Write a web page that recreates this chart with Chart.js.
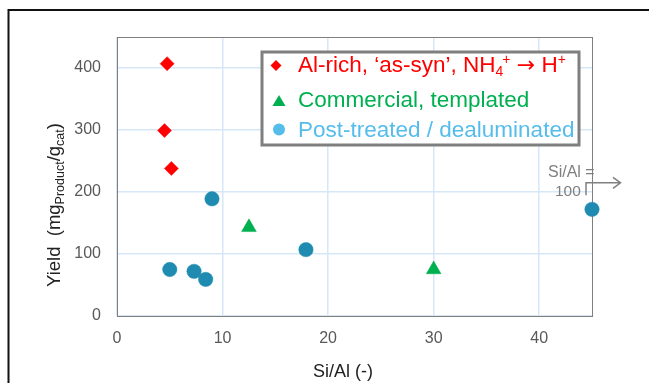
<!DOCTYPE html>
<html lang="en">
  <head>
    <meta charset="UTF-8" />
    <title>Yield vs Si/Al</title>
    <style>
      body {
        margin: 0;
        background: #fff;
      }
    </style>
    <script src="https://cdn.jsdelivr.net/npm/chart.js@4"></script>
  </head>
  <body>
    <canvas id="chart" width="649" height="383"></canvas>

    <script>
      // data
      const alRichX = [4.75, 4.5, 5.15];
      const alRichY = [407, 299, 238];
      const commercialX = [12.5, 30];
      const commercialY = [143, 75];
      const postTreatedX = [5.0, 7.3, 8.4, 9.0, 17.9, 45];
      const postTreatedY = [75, 72, 59, 189, 107, 172];

      const xTicks = [0, 10, 20, 30, 40];
      const yTicks = [0, 100, 200, 300, 400];

      const FONT = "'Liberation Sans', Arial, sans-serif";

      function toPoints(xs, ys) {
        return xs.map((x, i) => ({ x, y: ys[i] }));
      }

      // outer frame, plot border
      const framePlugin = {
        id: "frame",
        beforeDraw(chart) {
          const ctx = chart.ctx;
          ctx.save();
          ctx.fillStyle = "#fff";
          ctx.fillRect(0, 0, chart.width, chart.height);
          ctx.strokeStyle = "#111";
          ctx.lineWidth = 2;
          ctx.beginPath();
          ctx.moveTo(8.5, chart.height);
          ctx.lineTo(8.5, 10);
          ctx.lineTo(chart.width, 10);
          ctx.stroke();
          ctx.restore();
        },
        beforeDatasetsDraw(chart) {
          const { ctx, chartArea: a } = chart;
          ctx.save();
          ctx.strokeStyle = "#7f7f7f";
          ctx.lineWidth = 1;
          ctx.strokeRect(Math.round(a.left) + 0.5, Math.round(a.top) + 0.5,
            Math.round(a.right - a.left), Math.round(a.bottom - a.top));
          ctx.restore();
        },
      };

      // rich text helper: parts of [text, size, dy, family]
      function drawRich(ctx, parts, x, y) {
        for (const [t, size, dy, fam] of parts) {
          ctx.font = size + "px " + (fam || FONT);
          ctx.fillText(t, x, y + dy);
          x += ctx.measureText(t).width;
        }
        return x;
      }

      const titlesPlugin = {
        id: "titles",
        afterDraw(chart) {
          const { ctx, chartArea: a } = chart;
          ctx.save();
          ctx.fillStyle = "#222";
          ctx.textBaseline = "alphabetic";
          ctx.textAlign = "center";
          ctx.font = "18px " + FONT;
          ctx.fillText("Si/Al (-)", a.left + 226, 377);

          // y title, rotated
          ctx.translate(60, 287);
          ctx.rotate(-Math.PI / 2);
          ctx.textAlign = "left";
          drawRich(ctx, [
            ["Yield  (mg", 18.5, 0],
            ["Product", 12.5, 4],
            ["/g", 18.5, 0],
            ["cat", 12.5, 4],
            [")", 18.5, 0],
          ], 0, 0);
          ctx.restore();
        },
      };

      const legendPlugin = {
        id: "customLegend",
        afterDraw(chart) {
          const { ctx, chartArea: a } = chart;
          const left = a.left + 145;
          const top = a.top + 15;
          ctx.save();
          ctx.fillStyle = "#fff";
          ctx.fillRect(left, top, 317, 93);
          ctx.strokeStyle = "#7f7f7f";
          ctx.lineWidth = 3;
          ctx.strokeRect(left, top, 317, 93);

          const tx = left + 36;
          ctx.textBaseline = "alphabetic";

          // row 1
          ctx.fillStyle = "#ff0000";
          ctx.beginPath();
          const dx = left + 14, dy = top + 13.5;
          ctx.moveTo(dx - 5.5, dy);
          ctx.lineTo(dx, dy - 5.5);
          ctx.lineTo(dx + 5.5, dy);
          ctx.lineTo(dx, dy + 5.5);
          ctx.closePath();
          ctx.fill();
          let x = drawRich(ctx, [
            ["Al-rich, \u2018as-syn\u2019, NH", 22.5, 0],
            ["4", 14, 4],
          ], tx, top + 20);
          drawRich(ctx, [
            ["+", 14, -8],
            [" ", 22.5, 0],
            ["\u2192", 22, 0, "'DejaVu Sans', sans-serif"],
            [" H", 22.5, 0],
            ["+", 14, -8],
          ], x - 1, top + 20);

          // row 2
          ctx.fillStyle = "#00b050";
          ctx.beginPath();
          const gx = left + 17, gy = top + 49;
          ctx.moveTo(gx, gy - 6);
          ctx.lineTo(gx + 6.5, gy + 5);
          ctx.lineTo(gx - 6.5, gy + 5);
          ctx.closePath();
          ctx.fill();
          drawRich(ctx, [["Commercial, templated", 22.5, 0]], tx, top + 55);

          // row 3
          ctx.fillStyle = "#56bdeb";
          ctx.beginPath();
          ctx.arc(left + 17, top + 77.5, 6, 0, Math.PI * 2);
          ctx.fill();
          drawRich(ctx, [["Post-treated / dealuminated", 22.5, 0]], tx, top + 85);
          ctx.restore();
        },
      };

      // "Si/Al = 100" note next to the last post-treated point
      const notePlugin = {
        id: "note",
        afterDatasetsDraw(chart) {
          const { ctx, scales } = chart;
          const n = postTreatedX.length - 1;
          const px = scales.x.getPixelForValue(postTreatedX[n]);
          const py = scales.y.getPixelForValue(postTreatedY[n]);
          ctx.save();
          ctx.fillStyle = "#7f7f7f";
          ctx.font = "16px " + FONT;
          ctx.textBaseline = "alphabetic";
          ctx.fillText("Si/Al =", px - 44, py - 32);
          ctx.font = "15.5px " + FONT;
          ctx.fillText("100", px - 37, py - 13);

          ctx.strokeStyle = "#808080";
          ctx.lineWidth = 1.5;
          ctx.beginPath();
          ctx.moveTo(px - 6, py - 14);
          ctx.lineTo(px - 6, py - 26.5);
          ctx.lineTo(px + 28, py - 26.5);
          ctx.moveTo(px + 21, py - 32);
          ctx.lineTo(px + 28.5, py - 26.5);
          ctx.lineTo(px + 21, py - 21);
          ctx.stroke();
          ctx.restore();
        },
      };

      new Chart(document.getElementById("chart"), {
        type: "scatter",
        data: {
          datasets: [
            {
              label: "Al-rich",
              data: toPoints(alRichX, alRichY),
              pointStyle: "rectRot",
              pointRadius: 7,
              pointBackgroundColor: "#ff0000",
              pointBorderColor: "#ff0000",
              pointBorderWidth: 0.5,
              clip: false,
            },
            {
              label: "Commercial",
              data: toPoints(commercialX, commercialY),
              pointStyle: "triangle",
              pointRadius: 8.5,
              pointBackgroundColor: "#00b050",
              pointBorderColor: "#00b050",
              pointBorderWidth: 0.5,
              clip: false,
            },
            {
              label: "Post-treated",
              data: toPoints(postTreatedX, postTreatedY),
              pointStyle: "circle",
              pointRadius: 7.2,
              pointBackgroundColor: "#1f8bb1",
              pointBorderColor: "#1f8bb1",
              pointBorderWidth: 0.5,
              clip: false,
            },
          ],
        },
        options: {
          responsive: false,
          animation: false,
          devicePixelRatio: 1,
          layout: { padding: { left: 0, top: 37, right: 57, bottom: 0 } },
          plugins: {
            legend: { display: false },
            tooltip: { enabled: false },
          },
          scales: {
            x: {
              type: "linear",
              min: 0,
              max: 45,
              afterBuildTicks: (s) => {
                s.ticks = xTicks.map((v) => ({ value: v }));
              },
              afterFit: (s) => {
                s.height = 67;
              },
              ticks: {
                color: "#595959",
                font: { family: FONT, size: 16 },
                padding: 13,
                maxRotation: 0,
              },
              grid: { color: "#d6e8f8", lineWidth: 1.5, drawTicks: false },
              border: { display: false },
            },
            y: {
              min: 0,
              max: 450,
              afterBuildTicks: (s) => {
                s.ticks = yTicks.map((v) => ({ value: v }));
              },
              afterFit: (s) => {
                s.width = 117;
              },
              ticks: {
                color: "#595959",
                font: { family: FONT, size: 16 },
                padding: 16,
              },
              grid: { color: "#d6e8f8", lineWidth: 1.5, drawTicks: false },
              border: { display: false },
            },
          },
        },
        plugins: [framePlugin, titlesPlugin, legendPlugin, notePlugin],
      });
    </script>
  </body>
</html>
